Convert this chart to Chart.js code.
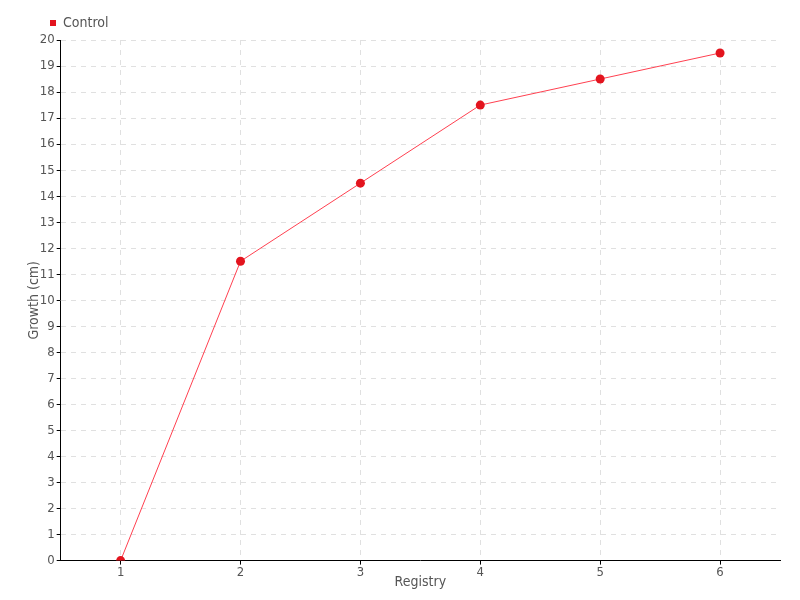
<!DOCTYPE html>
<html>
<head>
<meta charset="utf-8">
<script src="https://cdn.jsdelivr.net/npm/chart.js@4"></script>
<style>
  html, body { margin: 0; padding: 0; background: #fff; }
  #wrap { width: 800px; height: 600px; }
</style>
</head>
<body>
<div id="wrap"><canvas id="c" width="800" height="600"></canvas></div>
<script>
  // data
  const registry = [1, 2, 3, 4, 5, 6];
  const growth   = [0, 11.5, 14.5, 17.5, 18.5, 19.5];
  const yTicks   = [0,1,2,3,4,5,6,7,8,9,10,11,12,13,14,15,16,17,18,19,20];

  const FONT = "'Liberation Sans Narrow', 'DejaVu Sans Condensed', sans-serif";
  const TXT  = "#555";

  // legend sits over the plot's left edge in the reference, not the canvas edge
  const legendShift = {
    id: "legendShift",
    afterLayout(chart) { chart.legend.left += 16; }
  };

  new Chart(document.getElementById("c"), {
    type: "line",
    data: {
      datasets: [{
        label: "Control",
        data: registry.map((x, i) => ({ x, y: growth[i] })),
        borderColor: "#ff4050",
        borderWidth: 1,
        backgroundColor: "#e3141e",
        pointBackgroundColor: "#e3141e",
        pointBorderColor: "#e3141e",
        pointRadius: 4.5,
        pointBorderWidth: 0,
        pointStyle: "circle",
        tension: 0
      }]
    },
    plugins: [legendShift],
    options: {
      responsive: false,
      animation: false,
      layout: { padding: { top: 8, right: 20, left: 26, bottom: 9 } },
      plugins: {
        tooltip: { enabled: false },
        legend: {
          align: "start",
          labels: {
            usePointStyle: true,
            pointStyle: "rect",
            boxWidth: 6, boxHeight: 6,
            padding: 8,
            color: TXT,
            font: { family: FONT, size: 14 },
            generateLabels: chart => chart.data.datasets.map((d, i) => ({
              text: d.label, fillStyle: d.pointBackgroundColor, strokeStyle: d.pointBackgroundColor,
              lineWidth: 0, pointStyle: "rect", datasetIndex: i, fontColor: TXT
            }))
          }
        }
      },
      scales: {
        x: {
          type: "linear",
          min: 0.5, max: 6.5,
          afterBuildTicks: s => { s.ticks = registry.map(v => ({ value: v })); },
          ticks: { color: TXT, font: { family: FONT, size: 13 }, padding: 0 },
          grid: { color: "#e0e0e0", tickColor: "#000", tickLength: 4, tickBorderDash: [] },
          border: { color: "#000", width: 1, dash: [5, 5] },
          title: { display: true, text: "Registry", color: TXT, font: { family: FONT, size: 14 }, padding: { top: -6, bottom: 0 } }
        },
        y: {
          min: 0, max: 20,
          afterBuildTicks: s => { s.ticks = yTicks.map(v => ({ value: v })); },
          ticks: { color: TXT, font: { family: FONT, size: 13 }, padding: 2 },
          grid: { color: "#e0e0e0", tickColor: "#000", tickLength: 4, tickBorderDash: [] },
          border: { color: "#000", width: 1, dash: [5, 5] },
          title: { display: true, text: "Growth (cm)", color: TXT, font: { family: FONT, size: 14 }, padding: { top: 0, bottom: -5 } }
        }
      }
    }
  });
</script>
</body>
</html>
